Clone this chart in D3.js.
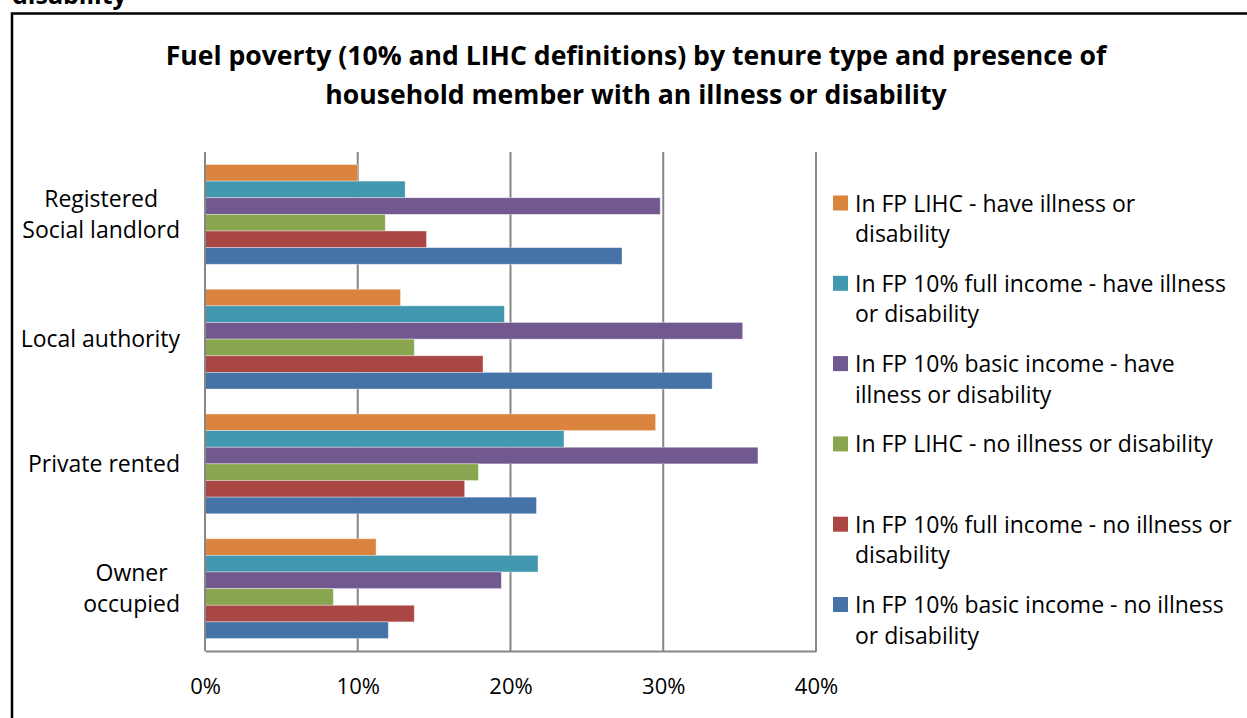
<!DOCTYPE html>
<html>
<head>
<meta charset="utf-8">
<script src="https://cdn.jsdelivr.net/npm/d3@7"></script>
<style>
  html, body { margin: 0; padding: 0; background: #fff; }
  svg { display: block; font-family: "Open Sans", Lato, sans-serif; }
</style>
</head>
<body>
<div id="chart"></div>
<script>
const width = 1247, height = 718;

// tenure types, top to bottom
const categories = [
  ["Registered", "Social landlord"],
  ["Local authority"],
  ["Private rented"],
  ["Owner", "occupied"]
];

// series, in the order the bars sit inside each group (top to bottom)
const seriesNames = [
  "In FP LIHC - have illness or disability",
  "In FP 10% full income - have illness or disability",
  "In FP 10% basic income - have illness or disability",
  "In FP LIHC - no illness or disability",
  "In FP 10% full income - no illness or disability",
  "In FP 10% basic income - no illness or disability"
];
const legendLines = [
  ["In FP LIHC - have illness or", "disability"],
  ["In FP 10% full income - have illness", "or disability"],
  ["In FP 10% basic income - have", "illness or disability"],
  ["In FP LIHC - no illness or disability"],
  ["In FP 10% full income - no illness or", "disability"],
  ["In FP 10% basic income - no illness", "or disability"]
];
const colors = ["#db843d", "#4198af", "#71588f", "#89a54e", "#aa4643", "#4572a7"];

// values per series, one per tenure type (fractions)
const lihcIll      = [0.100, 0.128, 0.295, 0.112];
const fullIll      = [0.131, 0.196, 0.235, 0.218];
const basicIll     = [0.298, 0.352, 0.362, 0.194];
const lihcNoIll    = [0.118, 0.137, 0.179, 0.084];
const fullNoIll    = [0.145, 0.182, 0.170, 0.137];
const basicNoIll   = [0.273, 0.332, 0.217, 0.120];
const seriesValues = [lihcIll, fullIll, basicIll, lihcNoIll, fullNoIll, basicNoIll];

const xTicks = [0, 0.1, 0.2, 0.3, 0.4];

const svg = d3.select("#chart").append("svg")
  .attr("width", width)
  .attr("height", height);

// clipped heading of the page above the chart
svg.append("text")
  .attr("x", 12)
  .attr("y", 4)
  .attr("font-size", "25px")
  .attr("font-weight", "bold")
  .attr("fill", "#000")
  .text("disability");

// chart frame (only top and left edges show)
svg.append("path")
  .attr("d", `M12,${height} L12,13.5 L${width},13.5`)
  .attr("fill", "none")
  .attr("stroke", "#000")
  .attr("stroke-width", 2.5);

// title
const title = svg.append("text")
  .attr("text-anchor", "middle")
  .attr("font-size", "26.6px")
  .attr("font-weight", "bold")
  .attr("fill", "#000");
["Fuel poverty (10% and LIHC definitions) by tenure type and presence of",
 "household member with an illness or disability"].forEach((t, i) => {
  title.append("tspan")
    .attr("x", 636)
    .attr("y", 65 + i * 38.5)
    .text(t);
});

const x = d3.scaleLinear().domain([0, 0.4]).range([205, 816]);
const y = d3.scaleBand().domain(d3.range(categories.length)).range([152, 651])
  .paddingInner(0.2).paddingOuter(0.1);
const ySub = d3.scaleBand().domain(d3.range(seriesNames.length)).range([0, y.bandwidth()]);

// gridlines
svg.append("g")
  .selectAll("line").data(xTicks)
  .join("line")
  .attr("x1", d => x(d)).attr("x2", d => x(d))
  .attr("y1", 152).attr("y2", 651)
  .attr("stroke", "#868686")
  .attr("stroke-width", 2);

// bars
const groups = svg.append("g")
  .selectAll("g").data(categories)
  .join("g")
  .attr("transform", (d, i) => `translate(0,${y(i)})`);

groups.selectAll("rect")
  .data((d, ci) => seriesValues.map((vals, si) => ({si, v: vals[ci]})))
  .join("rect")
  .attr("x", x(0))
  .attr("y", d => ySub(d.si))
  .attr("width", d => x(d.v) - x(0))
  .attr("height", ySub.bandwidth())
  .attr("fill", d => colors[d.si])
  .attr("stroke", "rgba(255,255,255,0.45)")
  .attr("stroke-width", 0.8);

// bottom axis
const xAxis = d3.axisBottom(x)
  .tickValues(xTicks)
  .tickFormat(d3.format(".0%"))
  .tickSize(0)
  .tickPadding(27);

const axisG = svg.append("g")
  .attr("transform", "translate(0,651)")
  .call(xAxis);
axisG.select(".domain").attr("stroke", "#868686").attr("stroke-width", 2);
axisG.selectAll("text")
  .attr("font-family", "'Open Sans', sans-serif")
  .attr("font-size", "22px")
  .attr("fill", "#000");

// left axis line
svg.append("line")
  .attr("x1", x(0)).attr("x2", x(0))
  .attr("y1", 152).attr("y2", 651)
  .attr("stroke", "#868686")
  .attr("stroke-width", 2);

// category labels: right aligned block, lines centred within it
const catLabels = svg.append("g")
  .selectAll("text").data(categories)
  .join("text")
  .attr("font-size", "23px")
  .attr("fill", "#000")
  .attr("text-anchor", "middle");

catLabels.each(function(lines, i) {
  const t = d3.select(this);
  const cy = y(i) + y.bandwidth() / 2;
  const lh = 30.5;
  const first = cy + 8 - (lines.length - 1) * lh / 2;
  lines.forEach((line, k) => {
    t.append("tspan").attr("y", first + k * lh).text(line);
  });
  const widths = t.selectAll("tspan").nodes().map(n => n.getComputedTextLength());
  const w = d3.max(widths);
  t.selectAll("tspan").attr("x", 180 - w / 2);
});

// legend
const legend = svg.append("g")
  .selectAll("g").data(legendLines)
  .join("g")
  .attr("transform", (d, i) => `translate(833,${211.5 + i * 80.3})`);

legend.append("rect")
  .attr("x", 0)
  .attr("y", -16)
  .attr("width", 15)
  .attr("height", 15)
  .attr("fill", (d, i) => colors[i]);

legend.append("text")
  .attr("font-size", "23px")
  .attr("fill", "#000")
  .selectAll("tspan").data(d => d)
  .join("tspan")
  .attr("x", 22)
  .attr("y", (d, k) => k * 30.5)
  .text(d => d);
</script>
</body>
</html>
